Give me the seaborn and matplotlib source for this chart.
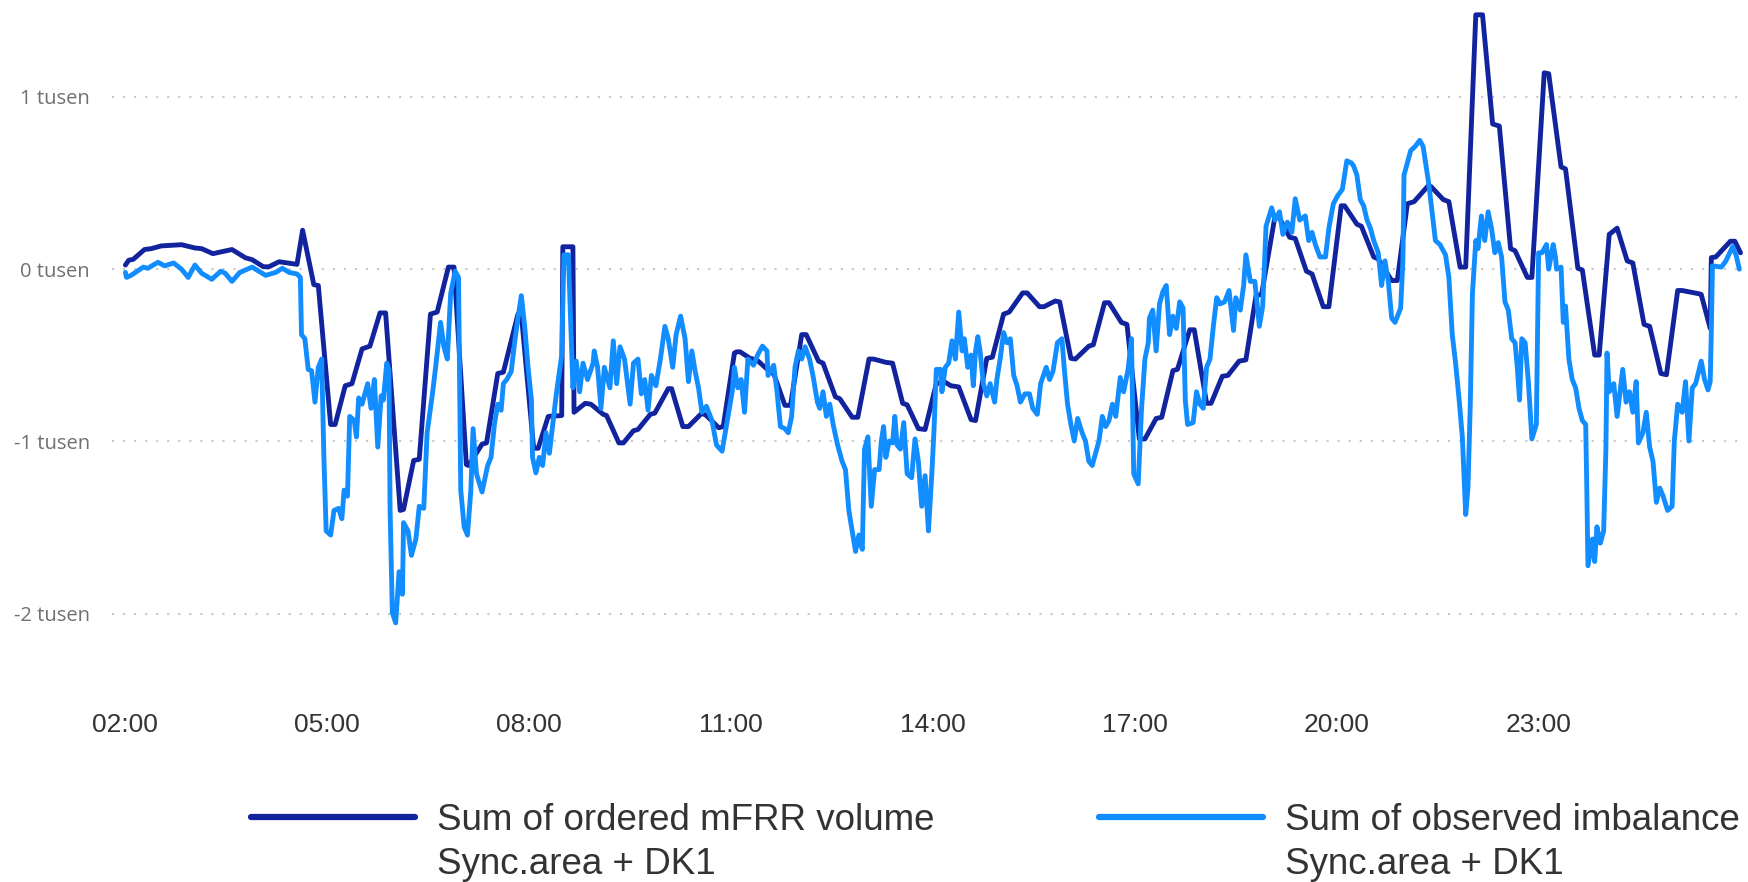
import matplotlib
matplotlib.use("Agg")
import matplotlib.pyplot as plt
import numpy as np
import pandas as pd
import seaborn as sns

# ---------------- data (minutes after 02:00, MW) ----------------
mfrr_minutes = [0, 3, 7, 17, 23, 32, 50, 62, 68, 78, 95, 107, 113, 123, 128, 137, 153, 158, 168, 172,
                183, 187, 196, 202, 211, 218, 227, 232, 245, 248, 257, 262, 272, 278, 288, 293, 304, 306,
                318, 322, 332, 337, 350, 353, 364, 368, 377, 389, 390, 399, 400, 410, 415, 426, 429, 440,
                444, 453, 457, 468, 472, 484, 487, 497, 502, 514, 518, 529, 533, 543, 545, 548, 557, 563,
                575, 578, 588, 593, 603, 607, 618, 622, 633, 637, 648, 653, 663, 667, 678, 684, 693, 697,
                707, 713, 723, 730, 736, 743, 754, 758, 768, 773, 783, 788, 800, 804, 815, 819, 829, 833,
                843, 847, 859, 863, 873, 877, 888, 893, 904, 909, 919, 924, 934, 938, 949, 953, 964, 968,
                978, 983, 993, 999, 1008, 1013, 1025, 1028, 1038, 1043, 1053, 1058, 1068, 1073, 1084, 1087,
                1098, 1102, 1113, 1117, 1129, 1134, 1143, 1149, 1161, 1164, 1175, 1180, 1190, 1195, 1204,
                1210, 1219, 1225, 1235, 1239, 1250, 1254, 1265, 1269, 1280, 1284, 1295, 1299, 1310, 1314,
                1323, 1330, 1339, 1344, 1354, 1359, 1369, 1374, 1384, 1388, 1403, 1405, 1413, 1414, 1418,
                1431, 1435, 1440]
mfrr_mw = [24, 52, 57, 114, 119, 135, 142, 123, 119, 90, 114, 66, 55, 14, 14, 43, 28, 226, -90, -95,
           -902, -902, -677, -665, -463, -447, -254, -254, -1401, -1395, -1111, -1104, -261, -249, 12, 12,
           -1135, -1140, -1016, -1009, -606, -598, -261, -261, -1040, -1040, -855, -850, 130, 130, -831,
           -779, -784, -843, -850, -1009, -1009, -938, -931, -843, -836, -694, -694, -914, -914, -836,
           -850, -921, -914, -487, -480, -480, -518, -527, -598, -606, -791, -791, -380, -380, -534, -546,
           -741, -753, -860, -860, -522, -522, -541, -546, -779, -788, -926, -931, -665, -653, -677, -684,
           -874, -879, -518, -511, -261, -249, -138, -138, -218, -218, -185, -190, -518, -522, -447, -439,
           -195, -195, -309, -321, -986, -986, -867, -860, -589, -582, -352, -352, -779, -779, -622, -617,
           -534, -527, -154, -147, 309, 309, 185, 178, -12, -28, -218, -218, 368, 368, 261, 249, 71, 59,
           -66, -66, 380, 392, 480, 480, 404, 392, 12, 12, 1477, 1477, 843, 831, 119, 107, -48, -48, 1140,
           1135, 594, 582, 5, -5, -499, -499, 202, 238, 48, 36, -321, -332, -606, -613, -124, -124, -143,
           -147, -344, 67, 71, 162, 162, 95]

imb_minutes = [0, 1, 5, 16, 20, 29, 35, 43, 50, 56, 62, 68, 77, 85, 89, 95, 102, 113, 125, 134, 140, 146,
               153, 156, 157, 160, 163, 166, 169, 172, 175, 177, 179, 183, 186, 190, 193, 195, 198, 200,
               204, 206, 208, 211, 216, 219, 222, 225, 228, 230, 233, 235, 236, 238, 241, 244, 247, 248,
               252, 255, 259, 262, 266, 269, 274, 277, 281, 284, 287, 290, 294, 297, 299, 302, 305, 308,
               310, 313, 318, 323, 326, 329, 332, 335, 337, 340, 344, 347, 350, 353, 356, 359, 362, 363,
               366, 369, 372, 375, 378, 381, 384, 387, 389, 391, 395, 399, 402, 405, 408, 412, 417, 418,
               421, 424, 427, 432, 435, 438, 441, 445, 450, 453, 457, 460, 463, 466, 469, 473, 477, 481,
               484, 488, 491, 495, 499, 502, 505, 508, 511, 514, 518, 523, 527, 532, 536, 541, 543, 546,
               549, 552, 555, 560, 564, 568, 572, 573, 578, 581, 584, 588, 591, 594, 597, 600, 603, 606,
               610, 613, 617, 619, 622, 625, 628, 631, 635, 639, 642, 645, 648, 651, 654, 657, 659, 662,
               665, 668, 672, 674, 676, 678, 681, 684, 686, 688, 691, 694, 697, 701, 704, 707, 710, 713,
               716, 719, 721, 723, 727, 728, 731, 734, 737, 740, 743, 746, 748, 751, 754, 756, 758, 760,
               762, 765, 768, 771, 775, 777, 780, 783, 786, 789, 792, 795, 798, 802, 806, 809, 813, 816,
               821, 824, 827, 831, 835, 837, 840, 843, 846, 849, 853, 856, 859, 862, 865, 868, 871, 874,
               877, 880, 883, 887, 890, 894, 897, 899, 903, 906, 909, 912, 913, 916, 919, 922, 925, 928,
               931, 934, 937, 940, 943, 945, 947, 952, 955, 958, 961, 964, 967, 970, 973, 976, 980, 984,
               988, 990, 994, 997, 999, 1003, 1007, 1011, 1014, 1017, 1022, 1025, 1029, 1032, 1036, 1040,
               1043, 1047, 1052, 1055, 1058, 1061, 1065, 1070, 1073, 1077, 1081, 1085, 1089, 1093, 1095,
               1098, 1101, 1104, 1107, 1110, 1113, 1117, 1120, 1123, 1126, 1129, 1132, 1137, 1139, 1140,
               1143, 1146, 1150, 1154, 1157, 1162, 1165, 1168, 1172, 1177, 1180, 1183, 1186, 1189, 1192,
               1195, 1197, 1199, 1201, 1204, 1206, 1209, 1212, 1215, 1218, 1221, 1224, 1227, 1230, 1233,
               1236, 1239, 1241, 1243, 1245, 1248, 1251, 1254, 1258, 1260, 1263, 1267, 1269, 1273, 1275,
               1276, 1280, 1282, 1284, 1287, 1290, 1293, 1296, 1299, 1302, 1303, 1304, 1308, 1310, 1312,
               1315, 1318, 1320, 1321, 1323, 1327, 1330, 1335, 1338, 1341, 1344, 1347, 1349, 1353, 1356,
               1359, 1362, 1365, 1368, 1371, 1375, 1379, 1381, 1384, 1388, 1391, 1394, 1397, 1400, 1405,
               1408, 1411, 1413, 1414, 1415, 1423, 1427, 1433, 1436, 1439]
imb_mw = [-19, -48, -36, 12, 5, 40, 19, 36, 0, -48, 24, -24, -59, -12, -24, -71, -19, 12, -36, -19, 5, -19,
          -28, -48, -380, -404, -582, -590, -772, -570, -522, -1100, -1520, -1544, -1401, -1389, -1449,
          -1283, -1318, -855, -879, -974, -748, -784, -665, -808, -641, -1033, -736, -760, -546, -582,
          -1401, -1995, -2054, -1757, -1888, -1472, -1520, -1662, -1567, -1377, -1389, -950, -712, -546,
          -309, -451, -522, -142, -12, -48, -1283, -1496, -1544, -1283, -926, -1188, -1294, -1140, -1093,
          -902, -784, -819, -665, -641, -594, -427, -285, -154, -332, -570, -760, -1093, -1183, -1093,
          -1140, -950, -1069, -902, -736, -594, -499, 83, 83, -689, -534, -712, -546, -641, -546, -475,
          -570, -808, -570, -689, -416, -665, -451, -522, -784, -546, -522, -724, -641, -819, -617, -677,
          -522, -332, -404, -570, -380, -273, -404, -653, -475, -594, -689, -831, -796, -879, -1021,
          -1057, -902, -712, -570, -689, -641, -831, -522, -558, -494, -447, -475, -617, -558, -712, -914,
          -926, -950, -855, -570, -475, -522, -451, -522, -617, -772, -808, -712, -855, -784, -902, -1021,
          -1116, -1164, -1401, -1520, -1639, -1544, -1627, -1045, -974, -1377, -1164, -1164, -998, -914,
          -1093, -998, -1009, -855, -1021, -1045, -891, -1188, -1211, -986, -1116, -1377, -1199, -1520,
          -1188, -926, -582, -582, -712, -570, -546, -416, -522, -249, -475, -404, -570, -499, -677, -475,
          -392, -475, -665, -736, -665, -772, -641, -518, -368, -427, -404, -617, -677, -772, -724, -724,
          -808, -843, -665, -570, -641, -594, -427, -404, -570, -784, -902, -998, -867, -950, -998, -1116,
          -1140, -1069, -998, -855, -914, -879, -784, -855, -629, -712, -582, -404, -1188, -1247, -808,
          -522, -427, -285, -238, -475, -202, -131, -95, -380, -273, -344, -190, -226, -760, -902, -891,
          -712, -784, -808, -570, -522, -332, -166, -202, -190, -124, -356, -166, -238, -95, 83, -71, -71,
          -332, -214, 249, 356, 285, 333, 202, 273, 214, 409, 285, 309, 166, 214, 142, 71, 71, 238, 380,
          428, 463, 629, 617, 600, 546, 404, 368, 285, 238, 166, 95, -95, 48, -71, -285, -309, -226, 48,
          546, 617, 689, 713, 748, 713, 499, 333, 166, 143, 83, -48, -380, -546, -748, -974, -1425, -1271,
          -808, -142, 166, 119, 309, 166, 333, 238, 95, 154, 71, -190, -238, -404, -427, -570, -760, -404,
          -427, -665, -986, -902, 95, 95, 143, 0, 143, 71, 0, 12, -309, -214, -522, -641, -689, -808, -879,
          -902, -1283, -1722, -1567, -1698, -1496, -1591, -1520, -1045, -487, -712, -665, -855, -582, -772,
          -712, -831, -653, -1009, -950, -831, -1033, -1116, -1354, -1271, -1318, -1401, -1377, -998, -784,
          -831, -653, -998, -689, -665, -534, -641, -701, -653, -356, 19, 12, 48, 131, 83, 0]

y_ticks = [1000, 0, -1000, -2000]
y_tick_labels = ["1 tusen", "0 tusen", "-1 tusen", "-2 tusen"]
x_tick_hours = [2, 5, 8, 11, 14, 17, 20, 23]
x_tick_labels = ["02:00", "05:00", "08:00", "11:00", "14:00", "17:00", "20:00", "23:00"]
series_names = ["Sum of ordered mFRR volume", "Sum of observed imbalance"]
series_sub = ["Sync.area + DK1", "Sync.area + DK1"]
colors = ["#12239E", "#118DFF"]

# ---------------- build frames ----------------
base = pd.Timestamp("2024-01-01 02:00")
df_mfrr = pd.DataFrame({"time": base + pd.to_timedelta(mfrr_minutes, unit="m"), "MW": mfrr_mw})
df_imb = pd.DataFrame({"time": base + pd.to_timedelta(imb_minutes, unit="m"), "MW": imb_mw})

sns.set_style("white")
plt.rcParams["font.family"] = ["Open Sans", "DejaVu Sans"]
legend_font = ["Liberation Sans", "DejaVu Sans"]

fig = plt.figure(figsize=(17.49, 8.82), dpi=100)
ax = fig.add_axes([0.0640, 0.2063, 0.9337, 0.7824])

sns.lineplot(data=df_mfrr, x="time", y="MW", ax=ax, color=colors[0], linewidth=3.5,
             estimator=None, sort=False, label=series_names[0])
sns.lineplot(data=df_imb, x="time", y="MW", ax=ax, color=colors[1], linewidth=3.5,
             estimator=None, sort=False, label=series_names[1])

ax.set_xlim(base + pd.Timedelta(minutes=-12), base + pd.Timedelta(minutes=1444))
ax.set_ylim(-2502, 1505)

ax.set_yticks(y_ticks)
ax.set_yticklabels(y_tick_labels, fontsize=14.5, color="#707070")
tick_times = [pd.Timestamp("2024-01-01") + pd.Timedelta(hours=h) for h in x_tick_hours]
ax.set_xticks(tick_times)
ax.set_xticklabels(x_tick_labels, fontsize=19, color="#333333", family=legend_font)
ax.tick_params(axis="y", length=0, pad=16)
ax.tick_params(axis="x", length=0, pad=9)
ax.set_xlabel("")
ax.set_ylabel("")
for s in ax.spines.values():
    s.set_visible(False)
ax.yaxis.grid(True, color="#c8c8c8", linestyle=(0, (1, 4.3)), linewidth=1.5)
ax.xaxis.grid(False)
ax.set_axisbelow(True)

handles, labels = ax.get_legend_handles_labels()
ax.get_legend().remove()
leg = fig.legend(handles, labels, loc="upper left", bbox_to_anchor=(0.1435, 0.0896),
                 ncol=2, frameon=False, borderpad=0, borderaxespad=0,
                 handlelength=4.46, handletextpad=0.6, columnspacing=4.45,
                 prop={"family": legend_font, "size": 26.5})
for t in leg.get_texts():
    t.set_color("#333333")
for h in leg.legend_handles:
    h.set_linewidth(4.5)

# second line of each legend entry, placed under the first line
fig.canvas.draw()
renderer = fig.canvas.get_renderer()
inv = fig.transFigure.inverted()
for t, sub in zip(leg.get_texts(), series_sub):
    bb = t.get_window_extent(renderer)
    x0, _ = inv.transform((bb.x0, 0))
    _, yc = inv.transform((0, (bb.y0 + bb.y1) / 2 - 44))
    fig.text(x0, yc, sub, ha="left", va="center", color="#333333",
             family=legend_font, fontsize=26.5)

fig.savefig("out.png", dpi=100)
